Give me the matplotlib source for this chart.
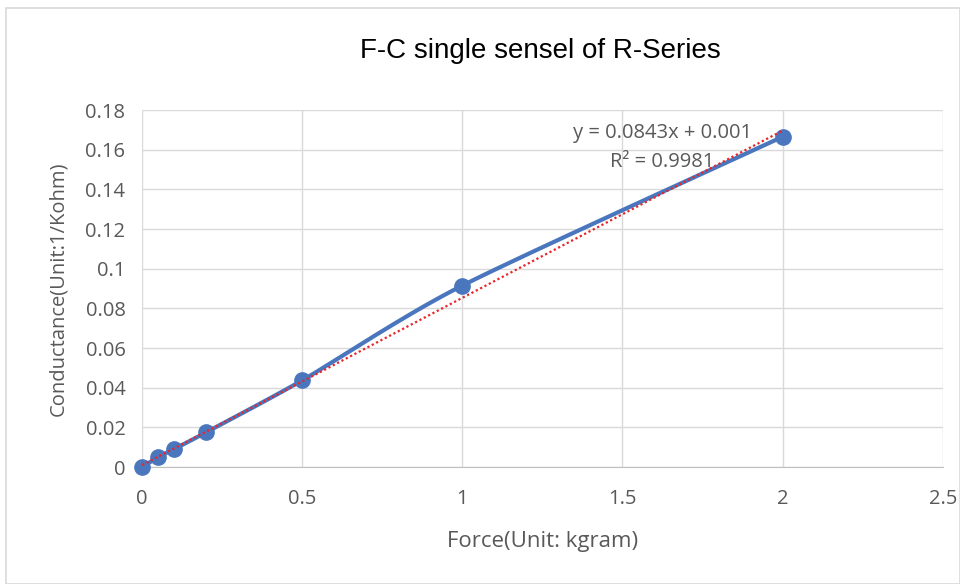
import matplotlib.pyplot as plt
import matplotlib.patches as patches
import numpy as np

# data
force = [0, 0.05, 0.1, 0.2, 0.5, 1.0, 2.0]
conductance = [0, 0.005, 0.009, 0.0175, 0.0437, 0.0915, 0.1665]
slope = 0.0843
intercept = 0.001
x_ticks = [0, 0.5, 1, 1.5, 2, 2.5]
y_ticks = [0, 0.02, 0.04, 0.06, 0.08, 0.1, 0.12, 0.14, 0.16, 0.18]
y_tick_labels = ['0', '0.02', '0.04', '0.06', '0.08', '0.1', '0.12', '0.14', '0.16', '0.18']

blue = '#4a76be'
grey_txt = '#595959'
tick_font = 'Open Sans'


def smooth(xs, ys, n=30):
    # bezier smoothing similar to Excel's smoothed line
    xs = np.asarray(xs, float)
    ys = np.asarray(ys, float)
    px = np.concatenate([[xs[0]], xs, [xs[-1]]])
    py = np.concatenate([[ys[0]], ys, [ys[-1]]])
    out_x, out_y = [], []
    for i in range(1, len(px) - 2):
        p0, p1, p2, p3 = (np.array([px[k], py[k]]) for k in (i - 1, i, i + 1, i + 2))
        c1 = p1 + (p2 - p0) / 8
        c2 = p2 - (p3 - p1) / 8
        t = np.linspace(0, 1, n)[:, None]
        pts = (1 - t) ** 3 * p1 + 3 * (1 - t) ** 2 * t * c1 + 3 * (1 - t) * t ** 2 * c2 + t ** 3 * p2
        out_x.extend(pts[:, 0])
        out_y.extend(pts[:, 1])
    return out_x, out_y


fig = plt.figure(figsize=(9.6, 5.84), dpi=100)
fig.patches.append(patches.Rectangle((0.006, 0.0), 0.994, 0.986, transform=fig.transFigure,
                                     fill=False, edgecolor='#d9d9d9', linewidth=1.2))
ax = fig.add_axes([0.148, 0.2003, 0.834, 0.6113])

sx, sy = smooth(force, conductance)
ax.plot(sx, sy, color=blue, linewidth=3, zorder=3, clip_on=False)
ax.plot(force, conductance, 'o', color=blue, markersize=11, zorder=4, clip_on=False)

tx = np.array([force[0], force[-1]])
ax.plot(tx, slope * tx + intercept, linestyle=(0, (1, 1.2)), color='#e8262a', linewidth=1.6,
        zorder=5, clip_on=False)

ax.set_xlim(0, 2.5)
ax.set_ylim(0, 0.18)
ax.set_xticks(x_ticks)
ax.set_xticklabels([str(t) for t in x_ticks], fontsize=14.5, color=grey_txt, family=tick_font)
ax.set_yticks(y_ticks)
ax.set_yticklabels(y_tick_labels, fontsize=14.5, color=grey_txt, family=tick_font)
ax.tick_params(axis='y', length=0, pad=12)
ax.tick_params(axis='x', length=0, pad=16)
ax.grid(True, color='#d9d9d9', linewidth=1)
ax.set_axisbelow(True)
for s in ['top', 'right', 'left']:
    ax.spines[s].set_visible(False)
ax.spines['bottom'].set_color('#bfbfbf')

ax.set_xlabel('Force(Unit: kgram)', fontsize=16, color=grey_txt, family=tick_font, labelpad=16)
ax.set_ylabel('Conductance(Unit:1/Kohm)', fontsize=14.5, color=grey_txt, family=tick_font, labelpad=12)

fig.text(0.5625, 0.912, 'F-C single sensel of R-Series', fontsize=20, family='Liberation Sans',
         ha='center', va='center', color='black')

ax.text(1.625, 0.1684, f'y = {slope}x + {intercept}', fontsize=14.5, color=grey_txt,
        family=tick_font, ha='center', va='center')
ax.text(1.625, 0.1538, 'R² = 0.9981', fontsize=14.5, color=grey_txt,
        family=tick_font, ha='center', va='center')

plt.savefig('out.png', dpi=100)
